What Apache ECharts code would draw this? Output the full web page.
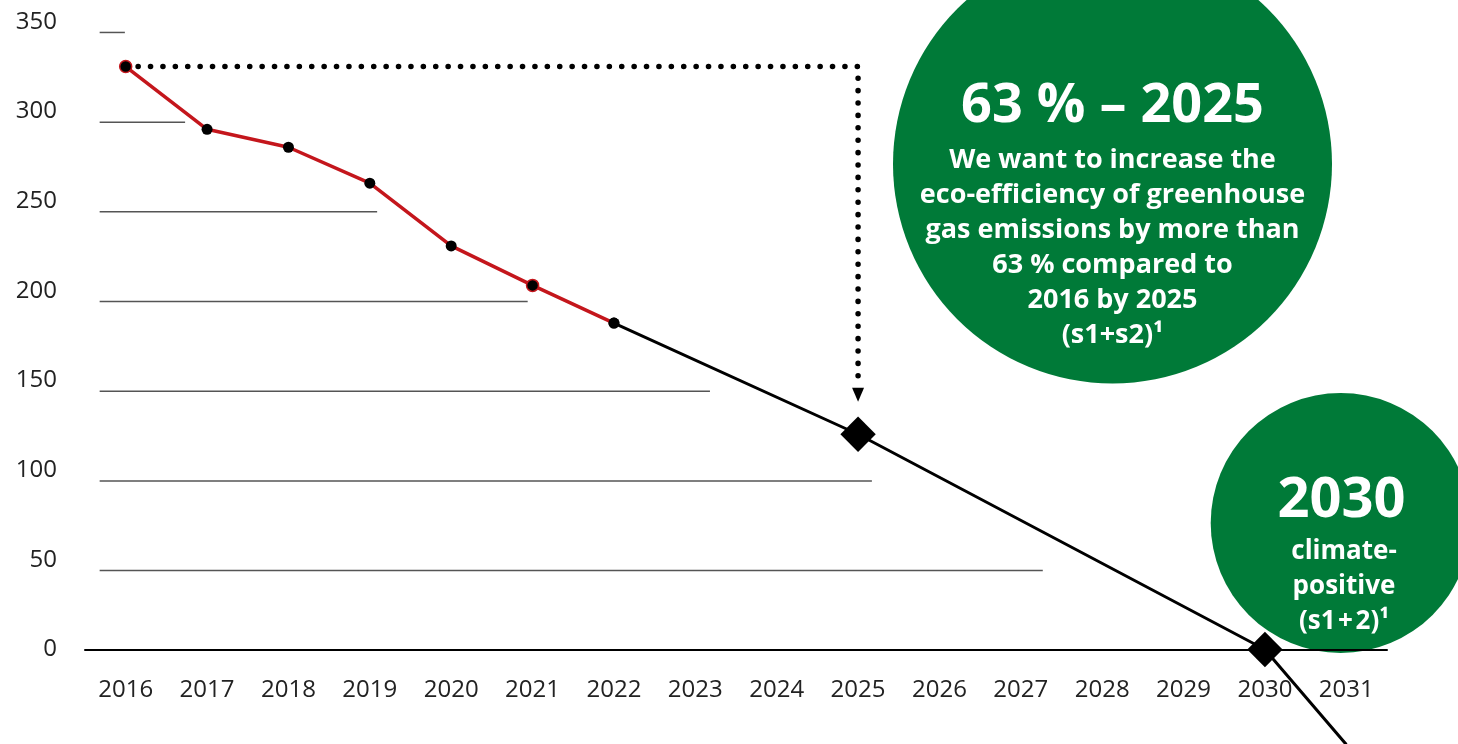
<!DOCTYPE html>
<html>
<head>
<meta charset="utf-8">
<script src="https://cdn.jsdelivr.net/npm/echarts@6/dist/echarts.min.js"></script>
<style>
  html, body { margin: 0; padding: 0; background: #fff; }
  #chart { width: 1458px; height: 744px; }
</style>
</head>
<body>
<div id="chart"></div>
<script>
// ---- data ----
const years = ['2016','2017','2018','2019','2020','2021','2022','2023','2024','2025','2026','2027','2028','2029','2030','2031'];
// actual emissions (red line)
const actual = [325, 290, 280, 260, 225, 203, 182, null, null, null, null, null, null, null, null, null];
// target pathway (black line)
const pathway = [null, null, null, null, null, null, 182, null, null, 120, null, null, null, null, 0, -53];
const ringedYears = ['2016', '2021'];
const diamondYears = ['2025', '2030'];
const yTicks = [0, 50, 100, 150, 200, 250, 300, 350];
// decorative step lines: ticks and the year where each one ends
const stepTicks = [50, 100, 150, 200, 250, 300, 350];
const stepEnds = [2027.27, 2025.17, 2023.18, 2020.94, 2019.09, 2016.73, 2015.99];
const stepStart = 2015.68;
const stepOffset = 6;
// dotted arrow from 2016 level to the 2025 target
const baseYear = 2016, targetYear = 2025;
const baseValue = actual[0];
const arrowGap = 26;
const arrowTipGap = 22;

const RED = '#c4161c';
const GREEN = '#007a38';
const FONT = "'Open Sans', 'Noto Sans', sans-serif";

const chart = echarts.init(document.getElementById('chart'), null, { renderer: 'canvas' });

const target2025 = pathway[years.indexOf(String(targetYear))];

const stepSeries = stepTicks.map((t, i) => ({
  type: 'line',
  xAxisIndex: 1,
  yAxisIndex: 0,
  data: [[stepStart, t - stepOffset], [stepEnds[i], t - stepOffset]],
  symbol: 'none',
  lineStyle: { color: '#555', width: 1.5 },
  silent: true,
  z: 1,
  clip: false
}));

const redData = actual.map((v, i) => {
  if (v == null) return null;
  const ring = ringedYears.includes(years[i]);
  return {
    value: v,
    symbol: 'circle',
    symbolSize: ring ? 12 : 11,
    itemStyle: { color: '#000', borderColor: ring ? RED : '#000', borderWidth: ring ? 1.5 : 0 }
  };
});

const blackData = pathway.map((v, i) => {
  if (v == null) return null;
  if (diamondYears.includes(years[i])) {
    return { value: v, symbol: 'rect', symbolSize: 25, symbolRotate: 45, itemStyle: { color: '#000' } };
  }
  if (i === years.length - 1) {
    return { value: v, symbol: 'none' };
  }
  return { value: v, symbol: 'circle', symbolSize: 11, itemStyle: { color: '#000' } };
});

const option = {
  animation: false,
  backgroundColor: '#fff',
  grid: { left: 85, right: 71, top: 21.7, bottom: 94.5, containLabel: false, outerBoundsMode: 'none' },
  xAxis: [
    {
      type: 'category',
      data: years,
      boundaryGap: true,
      axisLine: { show: true, onZero: true, lineStyle: { color: '#000', width: 2 } },
      axisTick: { show: false },
      axisLabel: { color: '#222', fontSize: 24, fontFamily: FONT, margin: 29 },
      splitLine: { show: false },
      z: 1
    },
    {
      type: 'value',
      min: 2015.5,
      max: 2031.5,
      show: false,
      splitLine: { show: false }
    }
  ],
  yAxis: {
    type: 'value',
    min: 0,
    max: 350,
    interval: 50,
    axisLine: { show: false },
    axisTick: { show: false },
    splitLine: { show: false },
    axisLabel: {
      color: '#222', fontSize: 24, fontFamily: FONT, margin: 28,
      formatter: v => (yTicks.includes(v) ? String(v) : '')
    }
  },
  series: [
    ...stepSeries,
    {
      type: 'line',
      xAxisIndex: 1,
      data: [[baseYear, baseValue], [targetYear, baseValue], [targetYear, target2025 + arrowGap]],
      symbol: 'none',
      lineStyle: { color: '#000', width: 5.5, type: [0.1, 12.3], cap: 'round', join: 'round' },
      silent: true,
      z: 2,
      clip: false
    },
    {
      type: 'scatter',
      xAxisIndex: 1,
      data: [[targetYear, target2025 + arrowTipGap]],
      symbol: 'triangle',
      symbolRotate: 180,
      symbolSize: [12, 14],
      itemStyle: { color: '#000', opacity: 1 },
      silent: true,
      z: 3
    },
    {
      type: 'line',
      data: blackData,
      connectNulls: true,
      showAllSymbol: true,
      lineStyle: { color: '#000', width: 3 },
      z: 4,
      clip: false
    },
    {
      type: 'line',
      data: redData,
      showAllSymbol: true,
      lineStyle: { color: RED, width: 3.5 },
      z: 5,
      clip: false
    }
  ],
  graphic: [
    {
      type: 'circle',
      shape: { cx: 1112.5, cy: 164, r: 219.5 },
      style: { fill: GREEN },
      z: -10, silent: true
    },
    {
      type: 'text',
      x: 1112.5, y: 107,
      style: {
        text: '63 % \u2013 2025', fill: '#fff', font: "bold 54px 'Open Sans', sans-serif",
        textAlign: 'center', textVerticalAlign: 'middle'
      },
      z: -9, silent: true
    },
    {
      type: 'text',
      x: 1112.5, y: 142.5,
      style: {
        text: 'We want to increase the\neco-efficiency of greenhouse\ngas emissions by more than\n63 % compared to\n2016 by 2025\n(s1+s2)\u00b9',
        fill: '#fff', font: "bold 27px 'Open Sans', sans-serif", lineHeight: 35,
        textAlign: 'center', textVerticalAlign: 'top'
      },
      z: -9, silent: true
    },
    {
      type: 'circle',
      shape: { cx: 1340.7, cy: 523, r: 130 },
      style: { fill: GREEN },
      z: -10, silent: true
    },
    {
      type: 'text',
      x: 1341.5, y: 501,
      style: {
        text: '2030', fill: '#fff', font: "bold 56px 'Open Sans', sans-serif",
        textAlign: 'center', textVerticalAlign: 'middle'
      },
      z: -9, silent: true
    },
    {
      type: 'text',
      x: 1344, y: 534,
      style: {
        text: 'climate-\npositive\n(s1\u200a+\u200a2)\u00b9',
        fill: '#fff', font: "bold 26px 'Open Sans', sans-serif", lineHeight: 35,
        textAlign: 'center', textVerticalAlign: 'top'
      },
      z: -9, silent: true
    }
  ]
};

chart.setOption(option);
</script>
</body>
</html>
